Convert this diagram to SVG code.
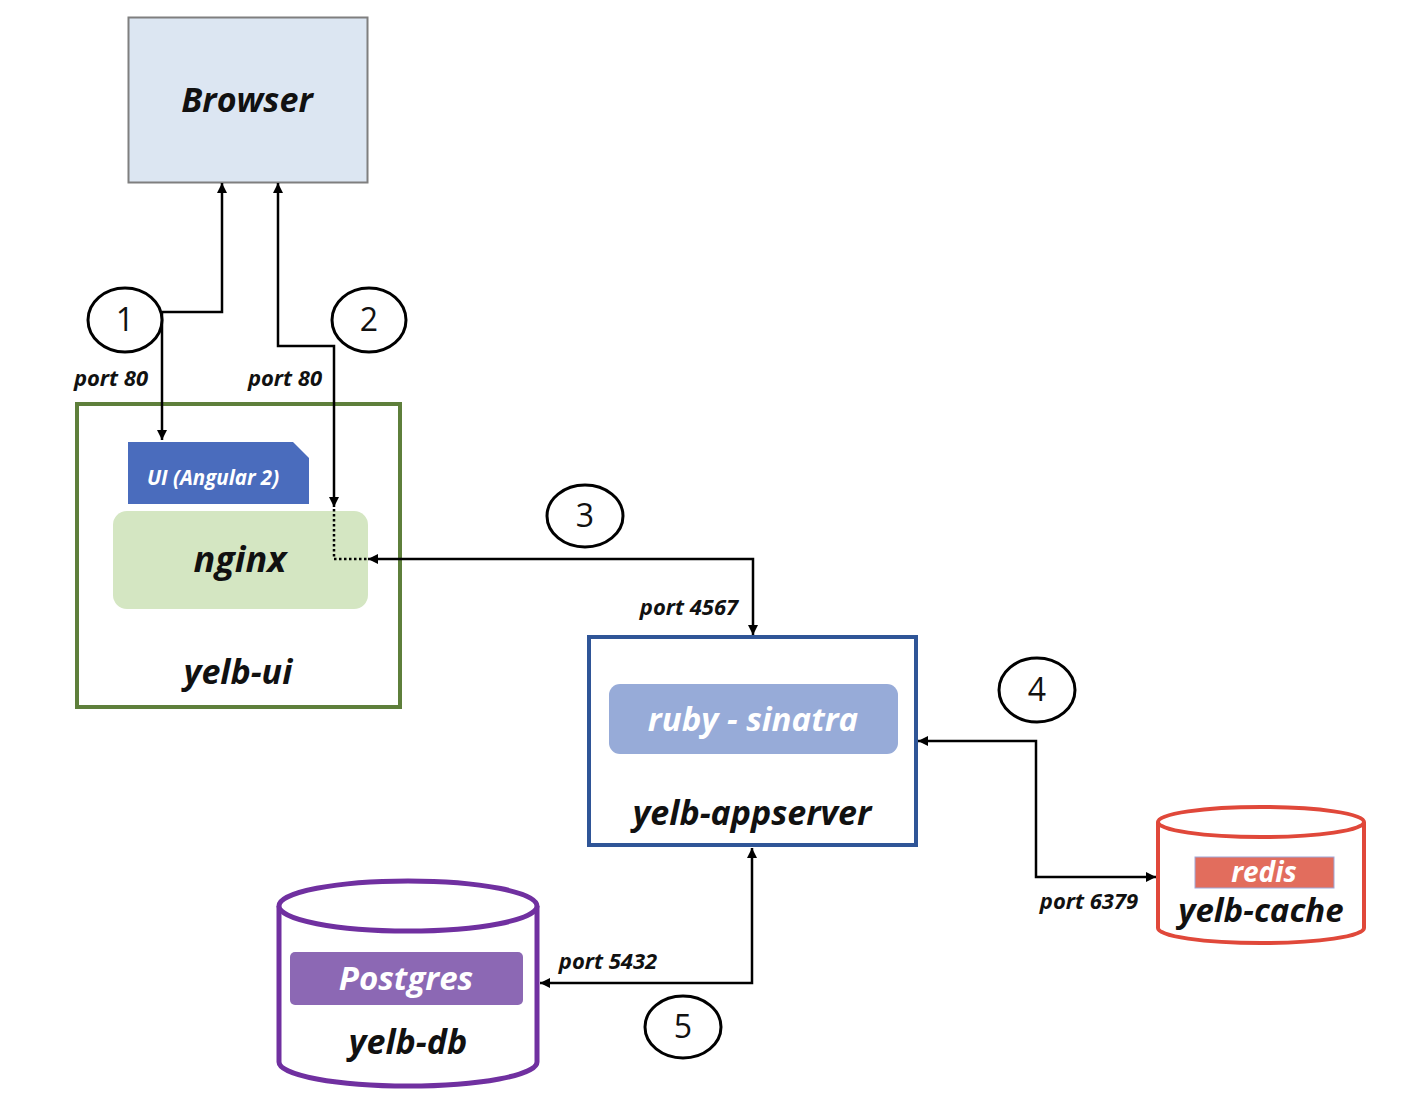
<svg xmlns="http://www.w3.org/2000/svg" width="1406" height="1104" viewBox="0 0 1406 1104">
<style>
.lbl{font-family:"Open Sans","Liberation Sans",sans-serif;font-weight:bold;font-style:italic;fill:#111;text-anchor:middle}
.wlbl{font-family:"Open Sans","Liberation Sans",sans-serif;font-weight:bold;font-style:italic;fill:#fff;text-anchor:middle}
.port{font-family:"Open Sans","Liberation Sans",sans-serif;font-weight:bold;font-style:italic;fill:#111;font-size:22px;text-anchor:middle}
.num{font-family:"Open Sans","Liberation Sans",sans-serif;fill:#111;font-size:32px;text-anchor:middle}
.circ{fill:#fff;stroke:#000;stroke-width:3}
.wire{fill:none;stroke:#000;stroke-width:2.5}
.dot{fill:none;stroke:#000;stroke-width:2.5;stroke-dasharray:2.5 2.5}
</style>
<defs>
<marker id="ah" viewBox="0 0 10 10" refX="10" refY="5" markerWidth="4" markerHeight="4" orient="auto-start-reverse" markerUnits="strokeWidth">
<path d="M0,0 L10,5 L0,10 z" fill="#000"/>
</marker>
</defs>
<rect width="1406" height="1104" fill="#fff"/>

<g id="browser">
<rect x="128.5" y="17.5" width="239" height="165" fill="#dce6f2" stroke="#7f7f7f" stroke-width="2"/>
<text class="lbl" x="247" y="112" font-size="34">Browser</text>
</g>

<g id="yelb-ui">
<rect x="77" y="404" width="323" height="303" fill="#fff" stroke="#5e7f3b" stroke-width="4"/>
<path d="M128,442 H293 L309,458 V504 H128 Z" fill="#4a6cbd"/>
<text class="wlbl" x="213" y="485" font-size="20.5">UI (Angular 2)</text>
<rect x="113" y="511" width="255" height="98" rx="14" fill="#d4e6c2"/>
<text class="lbl" x="240" y="572" font-size="36">nginx</text>
<text class="lbl" x="238" y="684" font-size="34">yelb-ui</text>
</g>

<g id="yelb-appserver">
<rect x="589" y="637" width="327" height="208" fill="#fff" stroke="#2f5597" stroke-width="4"/>
<rect x="609" y="684" width="289" height="70" rx="11" fill="#97abd8"/>
<text class="wlbl" x="753" y="731" font-size="33">ruby - sinatra</text>
<text class="lbl" x="752" y="825" font-size="34">yelb-appserver</text>
</g>

<g id="yelb-cache">
<path d="M1158,822 V928 A103,15 0 0 0 1364,928 V822" fill="#fff" stroke="#e0483a" stroke-width="4"/>
<ellipse cx="1261" cy="822" rx="103" ry="15" fill="#fff" stroke="#e0483a" stroke-width="4"/>
<rect x="1195" y="857" width="139" height="31" fill="#e26d5d" stroke="#9fa8d8" stroke-width="1"/>
<text class="wlbl" x="1264" y="882" font-size="28" font-weight="normal">redis</text>
<text class="lbl" x="1261" y="922" font-size="33">yelb-cache</text>
</g>

<g id="yelb-db">
<path d="M279,906 V1062 A129,24 0 0 0 537,1062 V906" fill="#fff" stroke="#7030a0" stroke-width="5"/>
<ellipse cx="408" cy="906" rx="129" ry="25" fill="#fff" stroke="#7030a0" stroke-width="5"/>
<rect x="290" y="952" width="233" height="53" rx="5" fill="#8c68b4"/>
<text class="wlbl" x="406" y="990" font-size="33" font-weight="normal">Postgres</text>
<text class="lbl" x="408" y="1054" font-size="34">yelb-db</text>
</g>

<g id="connectors">
<path class="wire" d="M162,312 H222 V183" marker-end="url(#ah)"/>
<path class="wire" d="M162,312 V440" marker-end="url(#ah)"/>
<path class="wire" d="M334,507 V346 H278 V183" marker-start="url(#ah)" marker-end="url(#ah)"/>
<path class="dot" d="M334,509 V559 H368"/>
<path class="wire" d="M368,559 H753 V635" marker-start="url(#ah)" marker-end="url(#ah)"/>
<path class="wire" d="M918,741 H1036 V877 H1156" marker-start="url(#ah)" marker-end="url(#ah)"/>
<path class="wire" d="M752,848 V983 H540" marker-start="url(#ah)" marker-end="url(#ah)"/>
</g>

<g id="badge-1"><ellipse class="circ" cx="125" cy="320" rx="37" ry="32"/><text class="num" x="125" y="331">1</text></g>
<g id="badge-2"><ellipse class="circ" cx="369" cy="320" rx="37" ry="32"/><text class="num" x="369" y="331">2</text></g>
<g id="badge-3"><ellipse class="circ" cx="585" cy="516" rx="38" ry="31"/><text class="num" x="585" y="527">3</text></g>
<g id="badge-4"><ellipse class="circ" cx="1037" cy="690" rx="38" ry="32"/><text class="num" x="1037" y="701">4</text></g>
<g id="badge-5"><ellipse class="circ" cx="683" cy="1027" rx="38" ry="31"/><text class="num" x="683" y="1038">5</text></g>

<g id="port-labels">
<text class="port" x="111" y="386">port 80</text>
<text class="port" x="285" y="386">port 80</text>
<text class="port" x="689" y="615">port 4567</text>
<text class="port" x="1089" y="909">port 6379</text>
<text class="port" x="608" y="969">port 5432</text>
</g>
</svg>
